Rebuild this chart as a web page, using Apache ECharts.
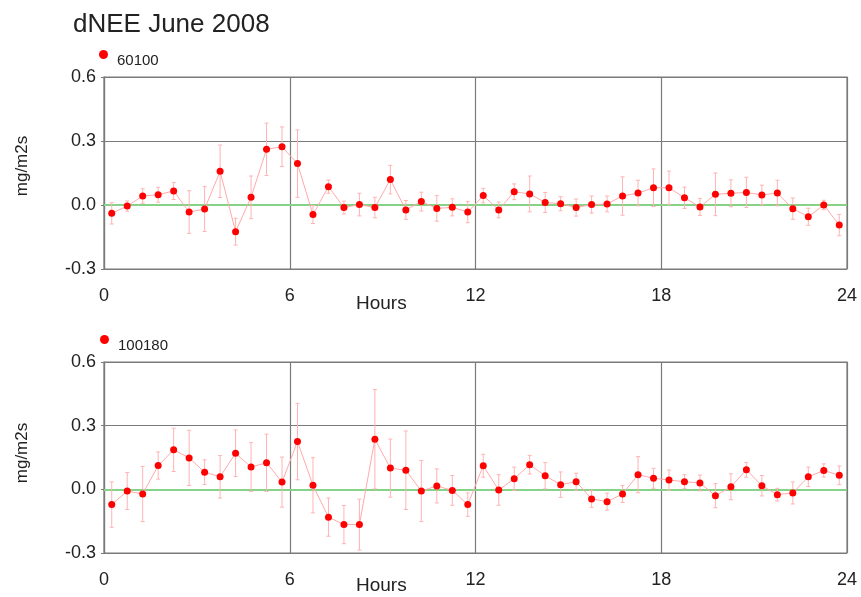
<!DOCTYPE html>
<html>
<head>
<meta charset="utf-8">
<script src="https://cdn.jsdelivr.net/npm/echarts@6/dist/echarts.min.js"></script>
<style>
  html, body { margin: 0; padding: 0; background: #fff; }
  #chart { width: 861px; height: 597px; }
</style>
</head>
<body>
<div id="chart"></div>
<script>
// Half-hour bin centres (hours of day)
const hours = [0.25, 0.75, 1.25, 1.75, 2.25, 2.75, 3.25, 3.75, 4.25, 4.75,
  5.25, 5.75, 6.25, 6.75, 7.25, 7.75, 8.25, 8.75, 9.25, 9.75,
  10.25, 10.75, 11.25, 11.75, 12.25, 12.75, 13.25, 13.75, 14.25, 14.75,
  15.25, 15.75, 16.25, 16.75, 17.25, 17.75, 18.25, 18.75, 19.25, 19.75,
  20.25, 20.75, 21.25, 21.75, 22.25, 22.75, 23.25, 23.75];

// Site 60100: mean dNEE and error half-width (mg/m2s)
const mean60100 = [-0.039, -0.005, 0.042, 0.048, 0.066, -0.033, -0.019, 0.158, -0.125, 0.036,
  0.261, 0.273, 0.194, -0.045, 0.086, -0.012, 0.002, -0.012, 0.119, -0.023,
  0.016, -0.016, -0.011, -0.033, 0.044, -0.023, 0.062, 0.052, 0.012, 0.006,
  -0.012, 0.002, 0.005, 0.042, 0.056, 0.081, 0.081, 0.034, -0.009, 0.05,
  0.055, 0.059, 0.047, 0.056, -0.017, -0.055, 0.0, -0.094];
const err60100 = [0.05, 0.024, 0.034, 0.035, 0.04, 0.1, 0.105, 0.123, 0.063, 0.1,
  0.123, 0.093, 0.158, 0.042, 0.031, 0.03, 0.053, 0.048, 0.067, 0.044,
  0.044, 0.06, 0.04, 0.05, 0.034, 0.037, 0.037, 0.084, 0.047, 0.033,
  0.04, 0.04, 0.037, 0.09, 0.06, 0.088, 0.078, 0.05, 0.04, 0.1,
  0.063, 0.071, 0.046, 0.06, 0.05, 0.04, 0.022, 0.05];

// Site 100180: mean dNEE and error half-width (mg/m2s)
const mean100180 = [-0.072, -0.008, -0.022, 0.112, 0.186, 0.148, 0.081, 0.059, 0.17, 0.105,
  0.125, 0.034, 0.225, 0.019, -0.131, -0.166, -0.166, 0.236, 0.1, 0.09,
  -0.008, 0.016, -0.005, -0.072, 0.111, -0.003, 0.05, 0.116, 0.064, 0.022,
  0.036, -0.045, -0.058, -0.022, 0.069, 0.052, 0.044, 0.036, 0.03, -0.03,
  0.012, 0.092, 0.017, -0.025, -0.017, 0.059, 0.089, 0.066];
const err100180 = [0.107, 0.087, 0.13, 0.064, 0.102, 0.13, 0.058, 0.1, 0.11, 0.115,
  0.135, 0.118, 0.18, 0.13, 0.09, 0.09, 0.12, 0.234, 0.137, 0.185,
  0.144, 0.08, 0.07, 0.055, 0.054, 0.072, 0.055, 0.044, 0.062, 0.06,
  0.04, 0.04, 0.04, 0.04, 0.085, 0.047, 0.047, 0.033, 0.037, 0.057,
  0.061, 0.035, 0.048, 0.03, 0.052, 0.046, 0.031, 0.044];

const xTicks = [0, 6, 12, 18, 24];
const yTicks = [-0.3, 0.0, 0.3, 0.6];

const FONT = 'Liberation Sans, Arial, Helvetica, sans-serif';
const GRID_COLOR = '#7a7a7a';

const chart = echarts.init(document.getElementById('chart'), null, { renderer: 'canvas' });

function pairs(xs, ys) { return xs.map((x, i) => [x, ys[i]]); }
function errRows(xs, ys, es) { return xs.map((x, i) => [x, ys[i] - es[i], ys[i] + es[i]]); }

function errorBarRender(params, api) {
  const x = api.value(0);
  const lo = api.coord([x, api.value(1)]);
  const hi = api.coord([x, api.value(2)]);
  const cap = 2;
  const style = { stroke: '#ffb3b3', lineWidth: 1 };
  return {
    type: 'group',
    children: [
      { type: 'line', shape: { x1: lo[0], y1: lo[1], x2: hi[0], y2: hi[1] }, style },
      { type: 'line', shape: { x1: lo[0] - cap, y1: lo[1], x2: lo[0] + cap, y2: lo[1] }, style },
      { type: 'line', shape: { x1: hi[0] - cap, y1: hi[1], x2: hi[0] + cap, y2: hi[1] }, style }
    ]
  };
}

function xAxisCfg(gi) {
  return {
    type: 'value', gridIndex: gi, min: 0, max: 24, interval: 6,
    axisLine: { show: true, lineStyle: { color: GRID_COLOR, width: 1.5 } },
    axisTick: { show: true, length: 7, lineStyle: { color: GRID_COLOR } },
    axisLabel: {
      color: '#222', fontSize: 18, fontFamily: FONT, margin: 18,
      formatter: v => xTicks.includes(v) ? String(v) : ''
    },
    splitLine: { show: true, lineStyle: { color: GRID_COLOR, width: 1.2 } }
  };
}
function yAxisCfg(gi) {
  return {
    type: 'value', gridIndex: gi, min: -0.3, max: 0.6, interval: 0.3,
    axisLine: { show: true, lineStyle: { color: GRID_COLOR, width: 1.2 } },
    axisTick: { show: true, length: 3, lineStyle: { color: GRID_COLOR } },
    axisLabel: {
      color: '#222', fontSize: 18, fontFamily: FONT, margin: 8,
      formatter: v => yTicks.some(t => Math.abs(t - v) < 1e-9) ? v.toFixed(1) : ''
    },
    splitLine: { show: true, lineStyle: { color: GRID_COLOR, width: 1.2 } }
  };
}

function panelSeries(name, gi, ys, es) {
  return [
    {
      type: 'custom', xAxisIndex: gi, yAxisIndex: gi,
      renderItem: errorBarRender,
      data: errRows(hours, ys, es),
      z: 3, silent: true
    },
    {
      name: name, type: 'line', xAxisIndex: gi, yAxisIndex: gi,
      data: pairs(hours, ys),
      symbol: 'circle', symbolSize: 7,
      itemStyle: { color: '#ff0000' },
      lineStyle: { color: '#ffaaaa', width: 1 },
      z: 5, silent: true,
      markLine: {
        silent: true, symbol: 'none', label: { show: false },
        lineStyle: { color: '#86d286', width: 2, type: 'solid' },
        data: [{ yAxis: 0 }],
        z: 2
      }
    }
  ];
}

function legendCfg(name, left, top) {
  return {
    data: [name], left: left, top: top, icon: 'circle', itemWidth: 9, itemHeight: 9,
    itemGap: 0,
    formatter: '{p|{name}}',
    textStyle: {
      fontSize: 15, color: '#222', fontFamily: FONT,
      rich: { p: { fontSize: 15, color: '#222', fontFamily: FONT, padding: [12, 0, 0, 4] } }
    }
  };
}

const option = {
  backgroundColor: '#fff',
  animation: false,
  title: {
    text: 'dNEE June 2008', left: 68, top: 7,
    textStyle: { fontSize: 26, fontWeight: 'normal', color: '#222', fontFamily: FONT }
  },
  legend: [legendCfg('60100', 94, 45), legendCfg('100180', 95, 330)],
  grid: [
    { left: 104, right: 14, top: 77, height: 192, show: true, borderColor: GRID_COLOR, borderWidth: 1.2 },
    { left: 104, right: 14, top: 362, height: 191, show: true, borderColor: GRID_COLOR, borderWidth: 1.2 }
  ],
  xAxis: [xAxisCfg(0), xAxisCfg(1)],
  yAxis: [yAxisCfg(0), yAxisCfg(1)],
  graphic: [
    { type: 'text', left: 356, top: 294, style: { text: 'Hours', fontSize: 19, fill: '#222', fontFamily: FONT } },
    { type: 'text', left: 356, top: 576, style: { text: 'Hours', fontSize: 19, fill: '#222', fontFamily: FONT } },
    { type: 'text', x: 22, y: 166, rotation: Math.PI / 2,
      style: { text: 'mg/m2s', fontSize: 17, fill: '#222', fontFamily: FONT, align: 'center', verticalAlign: 'middle' } },
    { type: 'text', x: 22, y: 453, rotation: Math.PI / 2,
      style: { text: 'mg/m2s', fontSize: 17, fill: '#222', fontFamily: FONT, align: 'center', verticalAlign: 'middle' } }
  ],
  series: [
    ...panelSeries('60100', 0, mean60100, err60100),
    ...panelSeries('100180', 1, mean100180, err100180)
  ]
};

chart.setOption(option);
</script>
</body>
</html>
